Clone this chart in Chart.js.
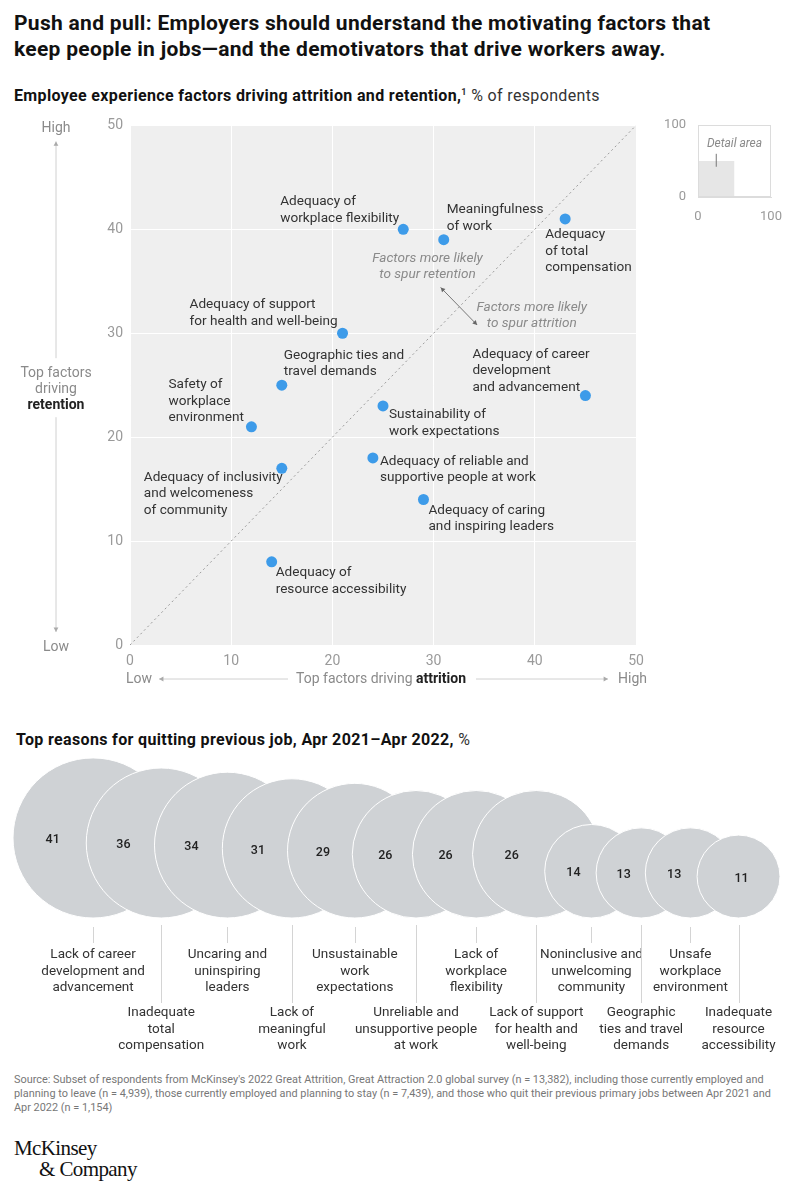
<!DOCTYPE html>
<html>
<head>
<meta charset="utf-8">
<script src="https://cdn.jsdelivr.net/npm/chart.js@4.4.1/dist/chart.umd.min.js"></script>
<style>
  body { margin: 0; width: 804px; height: 1195px; background: #fff; position: relative; overflow: hidden; font-family: Roboto, sans-serif; }
  .abs { position: absolute; }
  #title { left: 14px; top: 10px; font-size: 21px; font-weight: 700; line-height: 26px; color: #111; letter-spacing: 0.3px; white-space: nowrap; }
  #sub1 { left: 14px; top: 86px; font-size: 16px; color: #333; white-space: nowrap; letter-spacing: 0.35px; }
  #sub1 b, #sub2 b { color: #111; }
  #sub1 sup { font-size: 9px; font-weight: 700; }
  #sub2 { left: 16px; top: 730px; font-size: 16px; color: #333; white-space: nowrap; letter-spacing: 0.35px; }
  #source { left: 14px; top: 1073px; font-size: 10.9px; line-height: 14px; color: #777; white-space: nowrap; }
  #logo { left: 14px; top: 1138px; font-family: "Liberation Serif", serif; font-size: 21px; line-height: 21px; color: #111; letter-spacing: -0.6px; }
  #logo span { display: block; padding-left: 25px; }
  canvas { position: absolute; }
</style>
</head>
<body>
<div id="title" class="abs">Push and pull: Employers should understand the motivating factors that<br>keep people in jobs—and the demotivators that drive workers away.</div>
<div id="sub1" class="abs"><b>Employee experience factors driving attrition and retention,</b><sup>1</sup> % of respondents</div>

<canvas id="scatter" width="660" height="590" style="left:0;top:110px"></canvas>
<canvas id="inset" width="144" height="110" style="left:660px;top:110px"></canvas>

<div id="sub2" class="abs"><b>Top reasons for quitting previous job, Apr 2021–Apr 2022,</b> %</div>
<canvas id="bubbles" width="804" height="310" style="left:0;top:750px"></canvas>

<div id="source" class="abs">Source: Subset of respondents from McKinsey's 2022 Great Attrition, Great Attraction 2.0 global survey (n = 13,382), including those currently employed and<br>planning to leave (n = 4,939), those currently employed and planning to stay (n = 7,439), and those who quit their previous primary jobs between Apr 2021 and<br>Apr 2022 (n = 1,154)</div>
<div id="logo" class="abs">McKinsey<span>&amp; Company</span></div>

<script>
// данные: факторы опыта сотрудников
const factorLabels = [
  ["Adequacy of", "workplace flexibility"],
  ["Meaningfulness", "of work"],
  ["Adequacy", "of total", "compensation"],
  ["Adequacy of support", "for health and well-being"],
  ["Geographic ties and", "travel demands"],
  ["Safety of", "workplace", "environment"],
  ["Sustainability of", "work expectations"],
  ["Adequacy of career", "development", "and advancement"],
  ["Adequacy of inclusivity", "and welcomeness", "of community"],
  ["Adequacy of reliable and", "supportive people at work"],
  ["Adequacy of caring", "and inspiring leaders"],
  ["Adequacy of", "resource accessibility"]
];
const attrition = [27, 31, 43, 21, 15, 12, 25, 45, 15, 24, 29, 14];
const retention = [40, 39, 41, 30, 25, 21, 23, 24, 17, 18, 14, 8];
const axisMin = 0, axisMax = 50, axisStep = 10;

// данные: причины увольнения
const quitReasons = [
  ["Lack of career", "development and", "advancement"],
  ["Inadequate", "total", "compensation"],
  ["Uncaring and", "uninspiring", "leaders"],
  ["Lack of", "meaningful", "work"],
  ["Unsustainable", "work", "expectations"],
  ["Unreliable and", "unsupportive people", "at work"],
  ["Lack of", "workplace", "flexibility"],
  ["Lack of support", "for health and", "well-being"],
  ["Noninclusive and", "unwelcoming", "community"],
  ["Geographic", "ties and travel", "demands"],
  ["Unsafe", "workplace", "environment"],
  ["Inadequate", "resource", "accessibility"]
];
const quitShares = [41, 36, 34, 31, 29, 26, 26, 26, 14, 13, 13, 11];

// размещение подписей точек (смещение от точки, px)
const labelPlacement = [
  {dx: -123, dy: -27.6}, {dx: 3, dy: -29.7}, {dx: -20, dy: 16},
  {dx: -153, dy: -28.3}, {dx: 2, dy: -30}, {dx: -83, dy: -41.7},
  {dx: 6, dy: 9}, {dx: -113, dy: -41.4}, {dx: -138, dy: 9},
  {dx: 7, dy: 3.6}, {dx: 5, dy: 11}, {dx: 4, dy: 11}
];
const notes = [
  {x: 29.4, y: 37.2, lines: ["Factors more likely", "to spur retention"]},
  {x: 39.7, y: 32.5, lines: ["Factors more likely", "to spur attrition"]}
];
const noteArrow = {from: [30.7, 34.4], to: [34.3, 30.8]};

Chart.defaults.font.family = "Roboto, sans-serif";
Chart.defaults.animation = false;
Chart.defaults.plugins.legend.display = false;
Chart.defaults.plugins.tooltip.enabled = false;

function arrowHead(ctx, x1, y1, x2, y2, size) {
  const a = Math.atan2(y2 - y1, x2 - x1);
  ctx.beginPath();
  ctx.moveTo(x2, y2);
  ctx.lineTo(x2 - size * Math.cos(a - 0.5), y2 - size * Math.sin(a - 0.5));
  ctx.lineTo(x2 - size * Math.cos(a + 0.5), y2 - size * Math.sin(a + 0.5));
  ctx.closePath();
  ctx.fill();
}
function arrow(ctx, x1, y1, x2, y2, lineColor, headColor) {
  ctx.strokeStyle = lineColor;
  ctx.lineWidth = 1;
  ctx.beginPath();
  ctx.moveTo(x1, y1);
  ctx.lineTo(x2, y2);
  ctx.stroke();
  ctx.fillStyle = headColor;
  arrowHead(ctx, x1, y1, x2, y2, 5);
}

// фон области графика
const plotBackground = {
  id: "plotBackground",
  beforeDraw(chart) {
    const a = chart.chartArea;
    chart.ctx.save();
    chart.ctx.fillStyle = "#efefef";
    chart.ctx.fillRect(a.left, a.top, a.right - a.left, a.bottom - a.top);
    chart.ctx.restore();
  }
};

// подписи точек и пояснения
const scatterText = {
  id: "scatterText",
  afterDraw(chart) {
    const ctx = chart.ctx, a = chart.chartArea;
    const xs = chart.scales.x, ys = chart.scales.y;
    ctx.save();
    ctx.textBaseline = "middle";
    ctx.font = "13.6px Roboto";
    ctx.fillStyle = "#333";
    ctx.textAlign = "left";
    chart.getDatasetMeta(1).data.forEach((pt, i) => {
      const p = labelPlacement[i];
      factorLabels[i].forEach((line, j) => ctx.fillText(line, pt.x + p.dx, pt.y + p.dy + j * 16.5));
    });

    ctx.font = "italic 13.6px Roboto";
    ctx.fillStyle = "#8a8a8a";
    ctx.textAlign = "center";
    notes.forEach(n => {
      n.lines.forEach((line, j) => ctx.fillText(line, xs.getPixelForValue(n.x), ys.getPixelForValue(n.y) + j * 16.5));
    });
    const fx = xs.getPixelForValue(noteArrow.from[0]), fy = ys.getPixelForValue(noteArrow.from[1]);
    const tx = xs.getPixelForValue(noteArrow.to[0]), ty = ys.getPixelForValue(noteArrow.to[1]);
    arrow(ctx, fx, fy, tx, ty, "#777", "#666");
    arrowHead(ctx, tx, ty, fx, fy, 5);

    // ось Y слева
    const cx = a.left - 74, mid = (a.top + a.bottom) / 2;
    ctx.font = "14px Roboto";
    ctx.fillStyle = "#8a8a8a";
    ctx.fillText("High", cx, a.top + 3);
    ctx.fillText("Low", cx, a.bottom + 2);
    ctx.fillText("Top factors", cx, mid - 12);
    ctx.fillText("driving", cx, mid + 4);
    ctx.font = "bold 14px Roboto";
    ctx.fillStyle = "#222";
    ctx.fillText("retention", cx, mid + 20);
    arrow(ctx, cx, mid - 27, cx, a.top + 16, "#d0d0d0", "#aaa");
    arrow(ctx, cx, mid + 32, cx, a.bottom - 13, "#d0d0d0", "#aaa");

    // ось X снизу
    const ty2 = a.bottom + 34;
    ctx.textAlign = "left";
    ctx.font = "14px Roboto";
    ctx.fillStyle = "#8a8a8a";
    const lowX = a.left - 4;
    ctx.fillText("Low", lowX, ty2);
    const lowEnd = lowX + ctx.measureText("Low").width;
    const highW = ctx.measureText("High").width;
    const highX = a.right + 11 - highW;
    ctx.fillText("High", highX, ty2);
    const part1 = "Top factors driving ";
    const w1 = ctx.measureText(part1).width;
    ctx.font = "bold 14px Roboto";
    const w2 = ctx.measureText("attrition").width;
    const start = (a.left + a.right) / 2 - (w1 + w2) / 2 - 2;
    ctx.fillStyle = "#222";
    ctx.fillText("attrition", start + w1, ty2);
    ctx.font = "14px Roboto";
    ctx.fillStyle = "#8a8a8a";
    ctx.fillText(part1, start, ty2);
    arrow(ctx, start - 8, ty2, lowEnd + 7, ty2, "#d0d0d0", "#aaa");
    arrow(ctx, start + w1 + w2 + 10, ty2, highX - 10, ty2, "#d0d0d0", "#aaa");
    ctx.restore();
  }
};

new Chart(document.getElementById("scatter"), {
  type: "scatter",
  data: {
    datasets: [
      {
        type: "line",
        data: [{x: axisMin, y: axisMin}, {x: axisMax, y: axisMax}],
        borderColor: "#9a9a9a",
        borderWidth: 1,
        borderDash: [2, 3],
        pointRadius: 0,
        fill: false
      },
      {
        data: attrition.map((v, i) => ({x: v, y: retention[i]})),
        backgroundColor: "#3d9be9",
        borderWidth: 0,
        pointRadius: 5.5,
        pointHoverRadius: 5.5
      }
    ]
  },
  options: {
    responsive: false,
    layout: { autoPadding: false, padding: { top: 15, right: 24, left: 0, bottom: 0 } },
    scales: {
      x: {
        type: "linear", min: axisMin, max: axisMax,
        afterFit(s) { s.height = 55; },
        grid: { color: "#ffffff", lineWidth: 1, drawTicks: false },
        border: { display: false },
        ticks: { stepSize: axisStep, color: "#9a9a9a", font: { size: 14 }, padding: 8 }
      },
      y: {
        type: "linear", min: axisMin, max: axisMax,
        afterFit(s) { s.width = 130; },
        grid: { color: "#ffffff", lineWidth: 1, drawTicks: false },
        border: { display: false },
        ticks: { stepSize: axisStep, color: "#9a9a9a", font: { size: 14 }, padding: 7 }
      }
    }
  },
  plugins: [plotBackground, scatterText]
});

// маленькая схема «Detail area»
const insetMax = 100;
const insetText = {
  id: "insetText",
  afterDraw(chart) {
    const ctx = chart.ctx, a = chart.chartArea;
    const xs = chart.scales.x, ys = chart.scales.y;
    ctx.save();
    ctx.strokeStyle = "#dcdcdc";
    ctx.lineWidth = 1;
    ctx.strokeRect(a.left + 0.5, a.top + 0.5, a.right - a.left - 1, a.bottom - a.top - 1);
    ctx.strokeStyle = "#777";
    ctx.beginPath();
    ctx.moveTo(xs.getPixelForValue(axisMax / 2), ys.getPixelForValue(60));
    ctx.lineTo(xs.getPixelForValue(axisMax / 2), ys.getPixelForValue(42));
    ctx.stroke();
    ctx.font = "italic 12px Roboto";
    ctx.fillStyle = "#8a8a8a";
    ctx.textAlign = "center";
    ctx.textBaseline = "middle";
    ctx.fillText("Detail area", xs.getPixelForValue(50), ys.getPixelForValue(74));
    ctx.restore();
  }
};
new Chart(document.getElementById("inset"), {
  type: "line",
  data: {
    datasets: [{
      data: [{x: axisMin, y: axisMax}, {x: axisMax, y: axisMax}],
      fill: "origin",
      backgroundColor: "#e6e6e6",
      borderWidth: 0,
      pointRadius: 0
    }]
  },
  options: {
    responsive: false,
    layout: { autoPadding: false, padding: { top: 15, right: 33, left: 0, bottom: 0 } },
    scales: {
      x: {
        type: "linear", min: 0, max: insetMax,
        afterFit(s) { s.height = 23; },
        grid: { display: false },
        border: { color: "#dcdcdc" },
        ticks: { stepSize: insetMax, color: "#9a9a9a", font: { size: 13 }, padding: 4 }
      },
      y: {
        type: "linear", min: 0, max: insetMax,
        afterFit(s) { s.width = 38; },
        grid: { display: false },
        border: { color: "#dcdcdc" },
        ticks: { stepSize: insetMax, color: "#9a9a9a", font: { size: 13 }, padding: 4 }
      }
    }
  },
  plugins: [insetText]
});

// пузырьки: радиус по площади, ряд пузырьков с перекрытием
const bubbleScale = 12.5;
const radii = quitShares.map(v => bubbleScale * Math.sqrt(v));
const rowLeft = 13, rowRight = 780, baseline = 142, pairFactor = 0.293;
let pairSum = 0;
for (let i = 1; i < radii.length; i++) pairSum += radii[i - 1] + radii[i];
const firstCenter = rowLeft + radii[0];
const lastCenter = rowRight - radii[radii.length - 1];
const gap = (lastCenter - firstCenter - pairFactor * pairSum) / (radii.length - 1);
const centers = [firstCenter];
for (let i = 1; i < radii.length; i++) centers.push(centers[i - 1] + gap + pairFactor * (radii[i - 1] + radii[i]));

const bubbleText = {
  id: "bubbleText",
  afterDatasetsDraw(chart) {
    const ctx = chart.ctx;
    const pts = chart.getDatasetMeta(0).data;
    const baseY = chart.scales.y.getPixelForValue(baseline);
    ctx.save();
    ctx.textAlign = "center";
    ctx.textBaseline = "middle";
    pts.forEach((p, i) => {
      const r = radii[i];
      const left = p.x - r;
      const nextLeft = i < pts.length - 1 ? pts[i + 1].x - radii[i + 1] : p.x + r;
      ctx.font = "500 12.5px Roboto";
      ctx.fillStyle = "#222";
      ctx.fillText(String(quitShares[i]), (left + nextLeft) / 2 + 3, p.y + 2);

      const low = i % 2 === 1;
      ctx.strokeStyle = "#d4d4d4";
      ctx.lineWidth = 1;
      ctx.beginPath();
      ctx.moveTo(Math.round(p.x) + 0.5, baseY + (low ? 7 : 9));
      ctx.lineTo(Math.round(p.x) + 0.5, baseY + (low ? 85 : 25));
      ctx.stroke();
      ctx.font = "13.5px Roboto";
      ctx.fillStyle = "#333";
      quitReasons[i].forEach((line, j) => ctx.fillText(line, p.x, baseY + (low ? 95 : 37) + j * 16.5));
    });
    ctx.restore();
  }
};
new Chart(document.getElementById("bubbles"), {
  type: "bubble",
  data: {
    datasets: [{
      data: quitShares.map((v, i) => ({x: centers[i], y: baseline + radii[i], r: radii[i]})),
      backgroundColor: "#cfd2d5",
      borderColor: "#ffffff",
      borderWidth: 1,
      hoverRadius: 0
    }]
  },
  options: {
    responsive: false,
    layout: { autoPadding: false, padding: 0 },
    clip: false,
    scales: {
      x: { type: "linear", min: 0, max: 804, display: false },
      y: { type: "linear", min: 0, max: 310, display: false }
    }
  },
  plugins: [bubbleText]
});
</script>
</body>
</html>
